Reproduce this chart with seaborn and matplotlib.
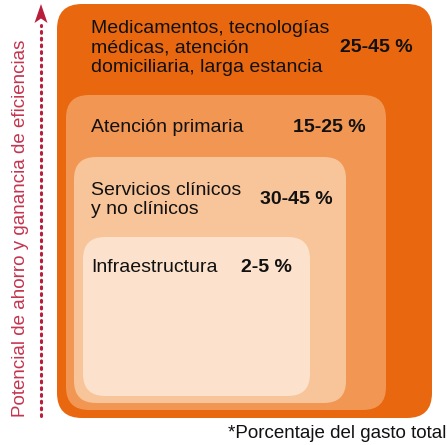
import matplotlib
matplotlib.use("Agg")
import matplotlib.pyplot as plt
from matplotlib.patches import FancyBboxPatch, Polygon
import seaborn as sns

# Datos del gráfico
categorias = [
    "Medicamentos, tecnologías\nmédicas, atención\ndomiciliaria, larga estancia",
    "Atención primaria",
    "Servicios clínicos\ny no clínicos",
    "Infraestructura",
]
rangos = ["25-45 %", "15-25 %", "30-45 %", "2-5 %"]
colores = ["#E8670F", "#F19653", "#F8C499", "#FCE1CC"]
eje_titulo = "Potencial de ahorro y ganancia de eficiencias"
nota = "*Porcentaje del gasto total"

sns.set_theme(style="white")
plt.rcParams["font.family"] = ["Liberation Sans", "DejaVu Sans"]

fig = plt.figure(figsize=(4.47, 4.45), dpi=100)
ax = fig.add_axes([0, 0, 1, 1])
ax.set_xlim(0, 447)
ax.set_ylim(445, 0)
ax.axis("off")

# cajas anidadas (x0, y0, x1, y1, radio) y posiciones de texto
cajas = [(57, 4, 432, 418, 25), (66, 95, 386, 410, 23),
         (74, 157, 346, 403, 22), (83, 237, 310, 396, 22)]
texto_y = [48, 127, 200, 267]
rango_x = [413, 366, 333, 292]

for (x0, y0, x1, y1, r), cat, rng, col, ty, rx in zip(
        cajas, categorias, rangos, colores, texto_y, rango_x):
    box = FancyBboxPatch((x0 + r, y0 + r), (x1 - x0) - 2 * r, (y1 - y0) - 2 * r,
                         boxstyle=f"round,pad={r}", facecolor=col,
                         edgecolor="none")
    ax.add_patch(box)
    ax.text(91, ty, cat, fontsize=14, color="#111111", ha="left",
            va="center", linespacing=1.22)
    ax.text(rx, ty, rng, fontsize=14, fontweight="bold", color="#111111",
            ha="right", va="center")

# flecha punteada del eje
rojo = "#B81E3A"
ax.plot([41, 41], [416, 25], color=rojo, lw=2.2, ls=(0, (0.6, 1.6)),
        solid_capstyle="round", dash_capstyle="round")
ax.add_patch(Polygon([(41, 4), (47.5, 23), (41, 18.5), (34.5, 23)],
                     closed=True, facecolor=rojo, edgecolor="none"))
ax.text(21, 417, eje_titulo, rotation=90, fontsize=13.5, color="#C4344F",
        ha="center", va="bottom")

ax.text(446, 433, nota, fontsize=13.5, color="#111111", ha="right",
        va="center")

fig.savefig("out.png", dpi=100)
